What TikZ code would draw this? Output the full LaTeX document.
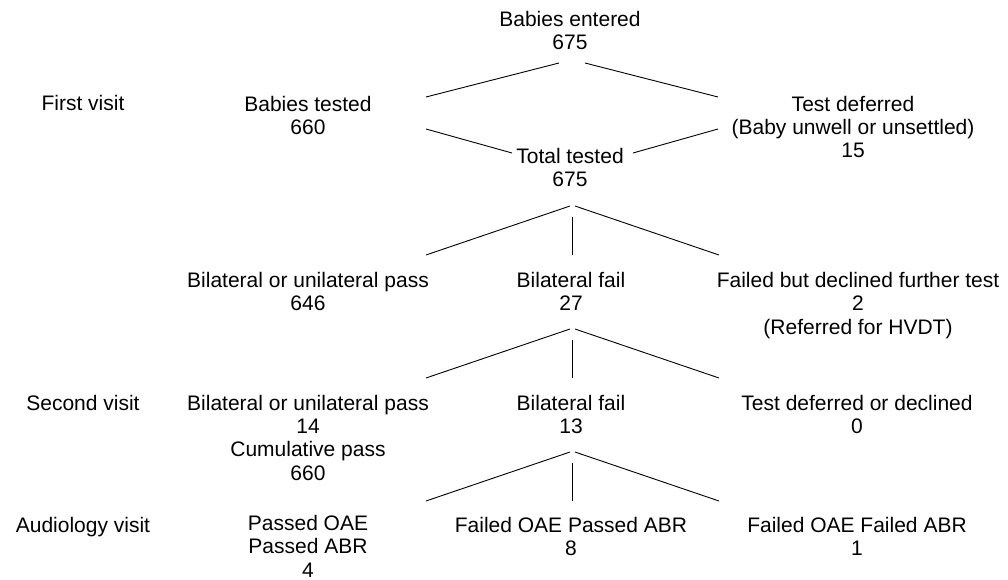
\documentclass[tikz,border=0pt]{standalone}
\usepackage{fontspec}
\setmainfont{Liberation Sans}
\begin{document}
\begin{tikzpicture}[x=1pt,y=-1pt,
  lbl/.style={anchor=base,align=center,inner sep=0pt,font=\fontsize{21}{23.3}\selectfont},
  conn/.style={line width=0.9pt}]
\useasboundingbox[fill=white] (0,0) rectangle (1008,580);
% (anchor=base is the baseline of the last line of each node)
% row 0
\node[lbl] (entered) at (570,50) {Babies entered\\675};
% row 1
\node[lbl] (first) at (83,111) {First visit};
\node[lbl] (tested) at (308,134.5) {Babies tested\\660};
\node[lbl] (deferred) at (853,158) {Test deferred\\(Baby unwell or unsettled)\\15};
\node[lbl] (total) at (570,186.5) {Total tested\\675};
% row 2
\node[lbl] (pass1) at (308,310.5) {Bilateral or unilateral pass\\646};
\node[lbl] (fail1) at (571,310.5) {Bilateral fail\\27};
\node[lbl] (decl1) at (858,334) {Failed but declined further test\\2\\(Referred for HVDT)};
% row 3
\node[lbl] (second) at (83,410) {Second visit};
\node[lbl] (pass2) at (308,480) {Bilateral or unilateral pass\\14\\Cumulative pass\\660};
\node[lbl] (fail2) at (571,433.5) {Bilateral fail\\13};
\node[lbl] (decl2) at (857,433.5) {Test deferred or declined\\0};
% row 4
\node[lbl] (audio) at (83,532) {Audiology visit};
\node[lbl] (oae1) at (308,577) {Passed OAE\\Passed ABR\\4};
\node[lbl] (oae2) at (571,555.5) {Failed OAE Passed ABR\\8};
\node[lbl] (oae3) at (857,555.5) {Failed OAE Failed ABR\\1};
% connector end points
\coordinate (e1l) at (559,63);  \coordinate (e1r) at (585,63);
\coordinate (t1l) at (426,97);  \coordinate (d1l) at (718,97);
\coordinate (t2l) at (426,129); \coordinate (d2l) at (718,129);
\coordinate (tot1) at (512,153); \coordinate (tot2) at (633,153);
\foreach \n/\y in {a/206,b/329,c/452}{
  \coordinate (\n apl) at (570,\y);
  \coordinate (\n apr) at (575,\y);
  \coordinate (\n apm) at (572,\y+11);
  \coordinate (\n endl) at (426,\y+49);
  \coordinate (\n endm) at (572,\y+49);
  \coordinate (\n endr) at (719,\y+49);
}
\draw[conn] (e1l) -- (t1l);
\draw[conn] (e1r) -- (d1l);
\draw[conn] (t2l) -- (tot1);
\draw[conn] (d2l) -- (tot2);
\foreach \n in {a,b,c}{
  \draw[conn] (\n apl) -- (\n endl);
  \draw[conn] (\n apr) -- (\n endr);
  \draw[conn] (\n apm) -- (\n endm);
}
\end{tikzpicture}
\end{document}
